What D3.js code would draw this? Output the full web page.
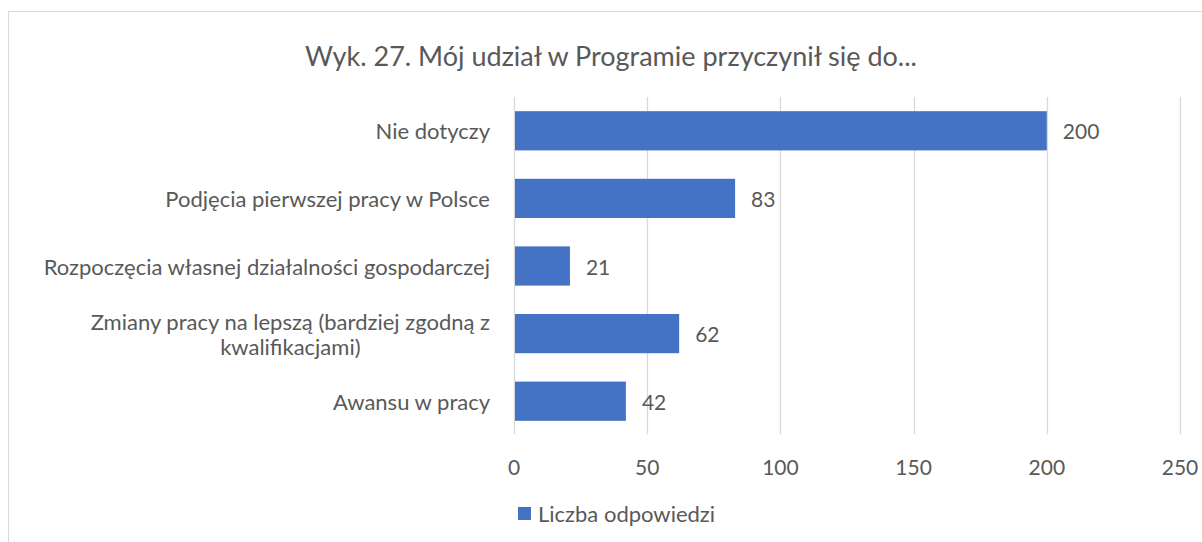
<!DOCTYPE html>
<html>
<head>
<meta charset="utf-8">
<script src="https://cdn.jsdelivr.net/npm/d3@7"></script>
<style>
  body { margin: 0; background: #fff; }
  text { font-family: Lato, "Open Sans", sans-serif; fill: #595959; }
</style>
</head>
<body>
<svg></svg>
<script>
var categories = [
    'Nie dotyczy',
    'Podjęcia pierwszej pracy w Polsce',
    'Rozpoczęcia własnej działalności gospodarczej',
    ['Zmiany pracy na lepszą (bardziej zgodną z', 'kwalifikacjami)'],
    'Awansu w pracy'
];
var values = [200, 83, 21, 62, 42];
var ticks = [0, 50, 100, 150, 200, 250];
var title = 'Wyk. 27. Mój udział w Programie przyczynił się do...';
var seriesName = 'Liczba odpowiedzi';

function start() {
    var svg = d3.select('svg')
        .attr('width', 1202)
        .attr('height', 542);

    // chart frame
    svg.append('rect')
        .attr('x', 8.5).attr('y', 11.5)
        .attr('width', 1300).attr('height', 700)
        .attr('fill', 'none')
        .attr('stroke', '#d9d9d9');

    svg.append('text')
        .attr('x', 611).attr('y', 55)
        .attr('text-anchor', 'middle')
        .attr('dominant-baseline', 'central')
        .style('font-size', '27px')
        .text(title);

    var x = d3.scaleLinear().domain([0, 250]).range([514, 1180]);
    var y = d3.scaleBand().domain(d3.range(categories.length))
        .range([97, 435]).paddingInner(0.42).paddingOuter(0.21);

    var g = svg.append('g');

    g.selectAll('line.grid')
        .data(ticks)
        .enter().append('line')
        .attr('class', 'grid')
        .attr('x1', function (d) { return Math.round(x(d)) + 0.5; })
        .attr('x2', function (d) { return Math.round(x(d)) + 0.5; })
        .attr('y1', 97).attr('y2', 434)
        .attr('stroke', '#d9d9d9')
        .attr('stroke-width', 1.3);

    g.selectAll('rect.bar')
        .data(values)
        .enter().append('rect')
        .attr('class', 'bar')
        .attr('x', x(0) + 1)
        .attr('y', function (d, i) { return y(i); })
        .attr('width', function (d) { return x(d) - x(0) - 1; })
        .attr('height', y.bandwidth())
        .attr('fill', '#4472c4');

    g.selectAll('text.val')
        .data(values)
        .enter().append('text')
        .attr('class', 'val')
        .attr('x', function (d) { return x(d) + 16; })
        .attr('y', function (d, i) { return y(i) + y.bandwidth() / 2; })
        .attr('dominant-baseline', 'central')
        .style('font-size', '21px')
        .text(function (d) { return d; });

    g.selectAll('text.tick')
        .data(ticks)
        .enter().append('text')
        .attr('class', 'tick')
        .attr('x', function (d) { return x(d); })
        .attr('y', 466)
        .attr('text-anchor', 'middle')
        .attr('dominant-baseline', 'central')
        .style('font-size', '21px')
        .text(function (d) { return d; });

    categories.forEach(function (c, i) {
        var cy = y(i) + y.bandwidth() / 2;
        if (typeof c === 'string') {
            g.append('text')
                .attr('x', 490).attr('y', cy)
                .attr('text-anchor', 'end')
                .attr('dominant-baseline', 'central')
                .style('font-size', '22px')
                .text(c);
        } else {
            var first = g.append('text')
                .attr('x', 490).attr('y', cy - 12.5)
                .attr('text-anchor', 'end')
                .attr('dominant-baseline', 'central')
                .style('font-size', '22px')
                .text(c[0]);
            var w = first.node().getComputedTextLength();
            g.append('text')
                .attr('x', 490 - w / 2).attr('y', cy + 12.5)
                .attr('text-anchor', 'middle')
                .attr('dominant-baseline', 'central')
                .style('font-size', '22px')
                .text(c[1]);
        }
    });

    // legend
    svg.append('rect')
        .attr('x', 518).attr('y', 507)
        .attr('width', 13).attr('height', 13)
        .attr('fill', '#4472c4');
    svg.append('text')
        .attr('x', 538).attr('y', 513)
        .attr('dominant-baseline', 'central')
        .style('font-size', '22px')
        .text(seriesName);
}

start();
</script>
</body>
</html>
